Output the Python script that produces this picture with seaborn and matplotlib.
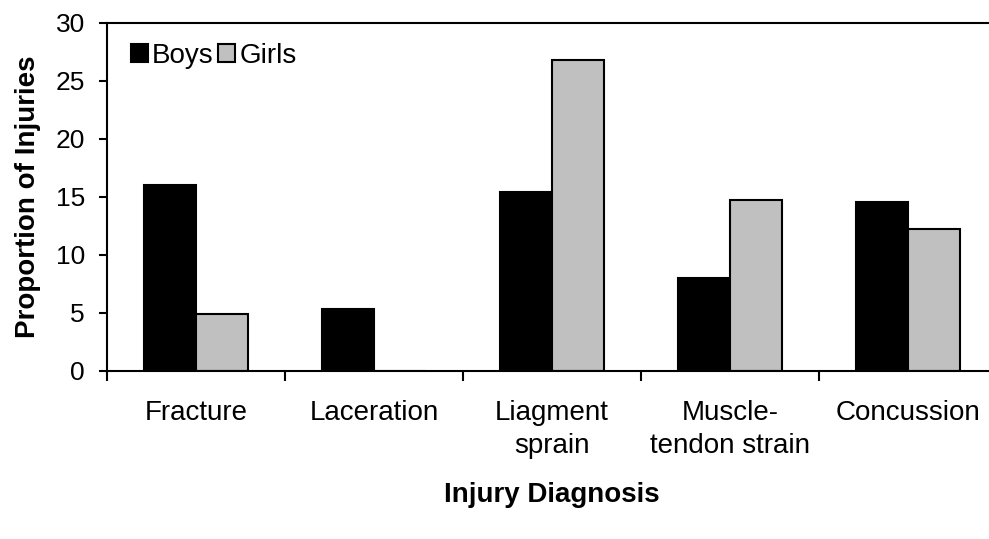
import matplotlib
matplotlib.use("Agg")
import matplotlib.pyplot as plt
import seaborn as sns
import pandas as pd
from matplotlib.ticker import FixedLocator

categories = ["Fracture", "Laceration", "Liagment\nsprain", "Muscle-\ntendon strain", "Concussion"]
boys = [16.0, 5.35, 15.4, 8.05, 14.6]
girls = [4.9, 0.0, 26.8, 14.7, 12.25]
groups = ["Boys", "Girls"]
yticks = [0, 5, 10, 15, 20, 25, 30]

df = pd.DataFrame({
    "Diagnosis": categories * 2,
    "Value": boys + girls,
    "Sex": ["Boys"] * len(categories) + ["Girls"] * len(categories),
})

sns.set_style("white")
plt.rcParams["font.family"] = ["Liberation Sans", "DejaVu Sans"]
for k in ["text.color", "axes.labelcolor", "xtick.color", "ytick.color", "axes.edgecolor"]:
    plt.rcParams[k] = "black"

fig = plt.figure(figsize=(9.89, 5.39), dpi=100)
ax = fig.add_axes([107/989, 1 - 371/539, 890/989, (371 - 23)/539])

sns.barplot(data=df, x="Diagnosis", y="Value", hue="Sex", hue_order=groups,
            palette=["#000000", "#C0C0C0"], width=0.584, gap=0,
            edgecolor="black", linewidth=1.5, ax=ax, legend=True)

ax.set_ylim(0, 30)
ax.set_xlim(-0.5, 4.5)
ax.set_yticks(yticks)
ax.set_yticklabels([str(t) for t in yticks], fontsize=19)
ax.tick_params(axis="y", direction="out", length=6, width=1.5, left=True, pad=10)
ax.tick_params(axis="x", which="major", length=0, pad=21, labelsize=20)
ax.xaxis.set_minor_locator(FixedLocator([-0.5, 0.5, 1.5, 2.5, 3.5, 4.5]))
ax.tick_params(axis="x", which="minor", direction="out", length=7, width=1.5, bottom=True)
for lbl in ax.get_xticklabels():
    lbl.set_linespacing(1.32)
    lbl.set_verticalalignment("top")

for side in ["left", "bottom", "top"]:
    ax.spines[side].set_visible(True)
    ax.spines[side].set_color("black")
    ax.spines[side].set_linewidth(1.5)
ax.spines["right"].set_visible(False)

ax.set_ylabel("Proportion of Injuries", fontsize=20, fontweight="bold")
ax.yaxis.set_label_coords((28 - 107) / 890, 0.5)
ax.yaxis.label.set_verticalalignment("center")
ax.set_xlabel("Injury Diagnosis", fontsize=20, fontweight="bold")
ax.xaxis.set_label_coords(0.5, (371 - 495) / 348)
ax.xaxis.label.set_verticalalignment("center")

leg = ax.legend(loc="upper left", bbox_to_anchor=(0.014, 0.975), ncol=2, frameon=False,
                fontsize=20, handlelength=0.62, handleheight=0.62, handletextpad=0.15,
                columnspacing=0.15, borderaxespad=0)
for h in leg.legend_handles:
    h.set_edgecolor("black")
    h.set_linewidth(1.5)

fig.savefig("out.png", dpi=100)
